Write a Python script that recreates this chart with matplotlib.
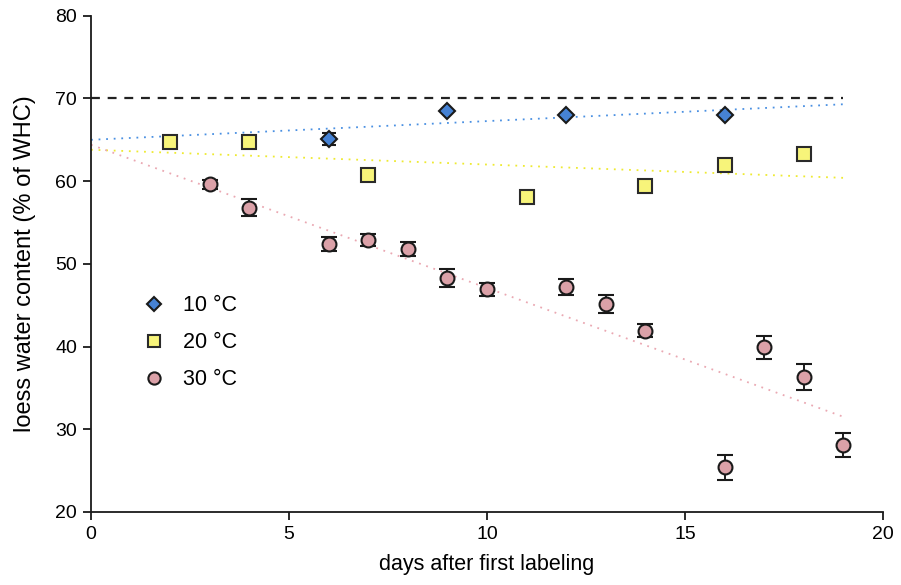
import matplotlib.pyplot as plt

plt.rcParams["font.family"] = ["Liberation Sans", "DejaVu Sans"]

# 10 °C
days_10 = [6, 9, 12, 16]
wc_10 = [65.1, 68.5, 68.0, 68.0]
err_10 = [0.7, 0.0, 0.0, 0.0]

# 20 °C
days_20 = [2, 4, 7, 11, 14, 16, 18]
wc_20 = [64.7, 64.7, 60.7, 58.1, 59.4, 62.0, 63.3]

# 30 °C
days_30 = [3, 4, 6, 7, 8, 9, 10, 12, 13, 14, 16, 17, 18, 19]
wc_30 = [59.6, 56.8, 52.4, 52.9, 51.8, 48.3, 46.9, 47.2, 45.1, 41.9, 25.4, 39.9, 36.3, 28.1]
err_30 = [0.5, 1.0, 0.8, 0.7, 0.9, 1.1, 0.8, 1.0, 1.1, 0.8, 1.5, 1.4, 1.6, 1.5]

# trend lines (end points)
trend_x = [0, 19]
trend_10 = [65.0, 69.3]
trend_20 = [63.8, 60.4]
trend_30 = [64.4, 31.5]

whc_level = 70

fig = plt.figure(figsize=(9.01, 5.85), dpi=100)
ax = fig.add_axes([0.101, 0.125, 0.879, 0.848])

dots = (0, (1, 3.2))
ax.plot([0, 19], [whc_level, whc_level], color="#222222", lw=1.6, ls=(0, (4, 3.5)), zorder=1)
ax.plot(trend_x, trend_10, color="#4a90e2", lw=1.3, ls=dots, zorder=1)
ax.plot(trend_x, trend_20, color="#eeea30", lw=1.3, ls=dots, zorder=1)
ax.plot(trend_x, trend_30, color="#eaa8b2", lw=1.3, ls=dots, zorder=1)

eb10 = ax.errorbar(days_10, wc_10, yerr=err_10, fmt="D", ms=8.5, mfc="#4682d4", mec="#1a1a1a",
                   mew=1.5, ecolor="#1a1a1a", elinewidth=1.4, capsize=5, capthick=1.4,
                   label="10 °C", zorder=3)
sq20, = ax.plot(days_20, wc_20, "s", ms=9.5, mfc="#f7f47a", mec="#2a2a2a", mew=1.5,
                label="20 °C", zorder=3)
eb30 = ax.errorbar(days_30, wc_30, yerr=err_30, fmt="o", ms=10, mfc="#dba1a8", mec="#1a1a1a",
                   mew=1.5, ecolor="#1a1a1a", elinewidth=1.4, capsize=5.5, capthick=1.4,
                   label="30 °C", zorder=3)

ax.set_xlim(0, 20)
ax.set_ylim(20, 80)
ax.set_xticks([0, 5, 10, 15, 20])
ax.set_yticks([20, 30, 40, 50, 60, 70, 80])
ax.spines["top"].set_visible(False)
ax.spines["right"].set_visible(False)
for s in ("left", "bottom"):
    ax.spines[s].set_linewidth(1.3)
    ax.spines[s].set_color("#1a1a1a")
ax.tick_params(direction="out", length=6, width=1.3, labelsize=14, color="#1a1a1a", pad=4)
ax.set_xlabel("days after first labeling", fontsize=15.5, labelpad=8)
ax.set_ylabel("loess water content (% of WHC)", fontsize=17, labelpad=14)

ax.legend([eb10[0], sq20, eb30[0]], ["10 °C", "20 °C", "30 °C"], loc="upper left",
          bbox_to_anchor=(0.052, 0.458), frameon=False, fontsize=15.5, handletextpad=0.85,
          labelspacing=0.74, handlelength=1.0, markerscale=0.88, borderpad=0)

fig.savefig("out.png", dpi=100)
